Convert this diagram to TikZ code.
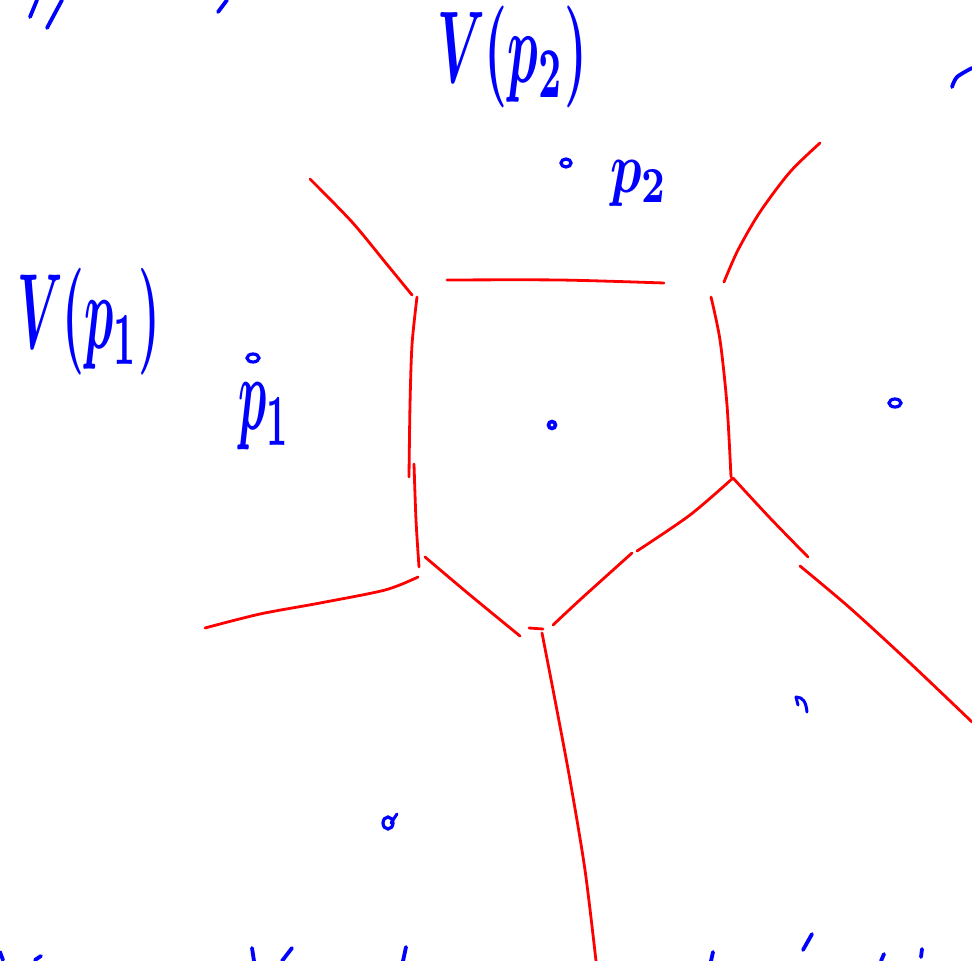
\documentclass[tikz,border=0pt]{standalone}
\usepackage{graphicx}
\tikzset{
  redline/.style={draw=red, line width=2.8pt, line cap=round, line join=round},
  bluestroke/.style={draw=blue, line width=3.8pt, line cap=round, line join=round},
  dotmark/.style={draw=blue, line width=3.2pt},
  hand/.style={text=blue, inner sep=0pt, outer sep=0pt, anchor=north west},
}
\begin{document}
\begin{tikzpicture}[x=1pt,y=-1pt]
\useasboundingbox (0,0) rectangle (972,961);
% ---- red Voronoi edges ----
\draw[redline] plot[smooth] coordinates {(310,179) (352,222) (385,262) (412,295)};
\draw[redline] plot[smooth] coordinates {(447,280) (560,280) (664,283)};
\draw[redline] plot[smooth] coordinates {(820,143) (790,172) (760,212) (738,250) (724,282)};
\draw[redline] plot[smooth] coordinates {(417,297) (412,345) (410,405) (409,477)};
\draw[redline] plot[smooth] coordinates {(414,464) (416,520) (419,567)};
\draw[redline] plot[smooth] coordinates {(711,297) (720,340) (727,405) (731,477)};
\draw[redline] plot[smooth] coordinates {(205,628) (260,614) (320,603) (385,590) (418,577)};
\draw[redline] plot[smooth] coordinates {(425,557) (470,595) (520,636)};
\draw[redline] (529,628) -- (543,629);
\draw[redline] plot[smooth] coordinates {(553,625) (582,598) (632,553)};
\draw[redline] plot[smooth] coordinates {(637,551) (690,515) (733,478)};
\draw[redline] plot[smooth] coordinates {(733,478) (770,518) (808,557)};
\draw[redline] plot[smooth] coordinates {(800,566) (850,608) (910,663) (972,722)};
\draw[redline] plot[smooth] coordinates {(542,633) (555,700) (570,780) (585,870) (596,961)};
% ---- blue handwritten labels ----
\node[hand] (Vp2) at (437,6) {\resizebox*{150pt}{102pt}{\boldmath$V(p_2)$}};
\node[hand] (p2) at (610,160) {\resizebox*{58pt}{46pt}{\boldmath$p_2$}};
\node[hand] (Vp1) at (17,268) {\resizebox*{143pt}{107pt}{\boldmath$V(p_1)$}};
\node[hand] (p1) at (238,383) {\resizebox*{52pt}{67pt}{\boldmath$p_1$}};
% ---- blue site points ----
\draw[dotmark] (566,163) ellipse (5 and 4);
\draw[dotmark] (253,358) ellipse (6 and 4);
\draw[dotmark, line width=3.6pt] (552,425) ellipse (3.5 and 3.5);
\draw[dotmark] (895,403) ellipse (6 and 4);
\draw[bluestroke, line width=3pt] (796,697) .. controls (803,697) and (806,702) .. (807,712);
\draw[bluestroke, line width=3pt] (796,697) -- (798,705);
\draw[dotmark] (388,823) ellipse (5 and 6);
\draw[bluestroke, line width=3pt] (391,823) -- (397,814);
% ---- cropped stroke fragments at the borders ----
\draw[bluestroke] (30,17) -- (37,0);
\draw[bluestroke] (47,28) -- (62,0);
\draw[bluestroke] (218,12) -- (227,0);
\draw[bluestroke] plot[smooth] coordinates {(952,87) (957,77) (972,68)};
\draw[bluestroke] (0,952) -- (3,960);
\draw[bluestroke] (35,960) -- (41,956);
\draw[bluestroke] (252,948) -- (254,961);
\draw[bluestroke] (292,948) -- (282,961);
\draw[bluestroke] (406,947) -- (403,961);
\draw[bluestroke] (713,952) -- (711,961);
\draw[bluestroke] (812,934) -- (803,950);
\draw[bluestroke] (884,954) -- (881,961);
\draw[bluestroke] (922,949) -- (921,957);
\end{tikzpicture}
\end{document}
